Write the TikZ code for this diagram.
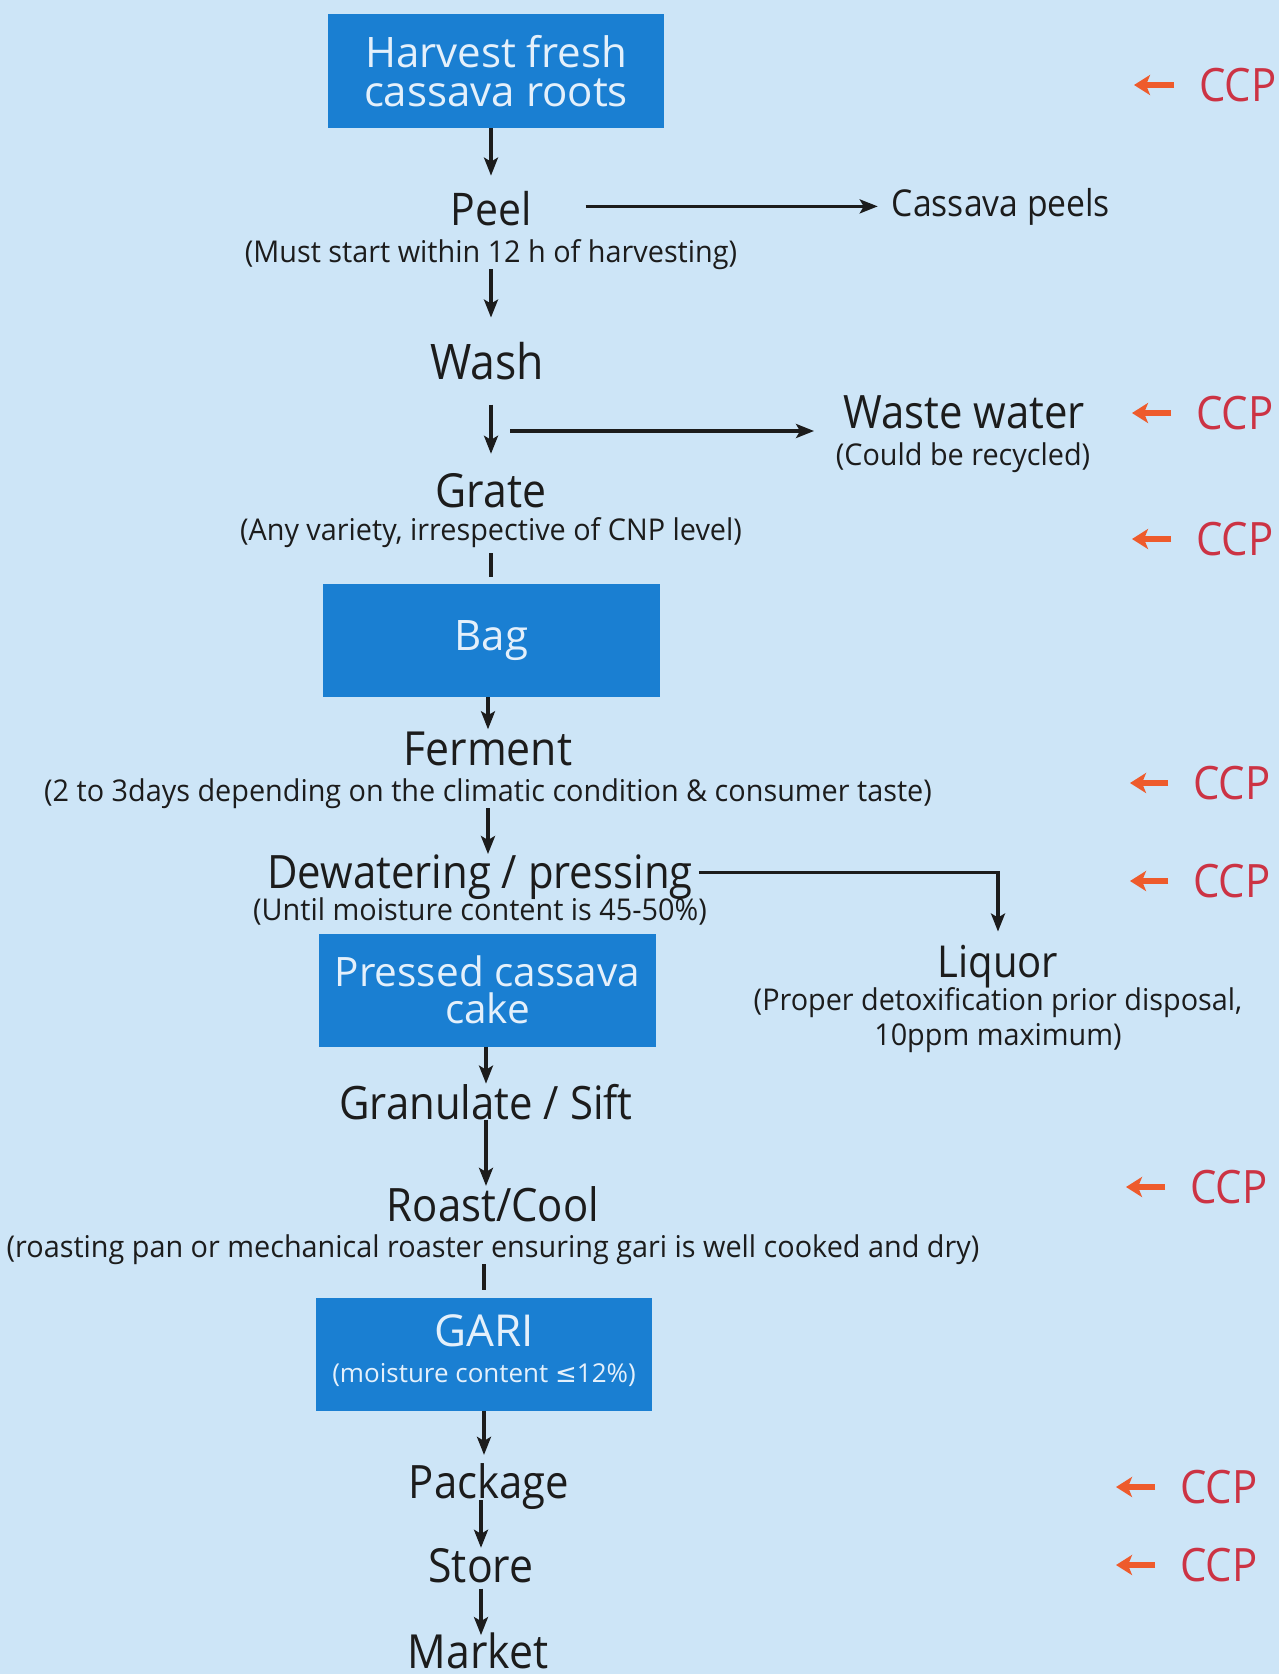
\documentclass[tikz,border=0pt]{standalone}
\usepackage{fontspec}
\setmainfont{Open Sans}
\newfontfamily\cf{Open Sans}[FakeStretch=0.91]
\newfontfamily\sbf{Open Sans}[FakeStretch=0.96]
\newfontfamily\symf{DejaVu Sans}
\usetikzlibrary{arrows.meta}
\definecolor{bg}{HTML}{CDE5F7}
\definecolor{boxblue}{HTML}{1A7FD2}
\definecolor{boxtext}{HTML}{E4F0FB}
\definecolor{ink}{HTML}{1C1C1C}
\definecolor{ccpred}{HTML}{CC3344}
\definecolor{ccporange}{HTML}{EE5B2C}
\newcommand{\fs}[1]{\fontsize{#1}{#1}\selectfont}
\begin{document}
\begin{tikzpicture}[x=1pt,y=-1pt,
  bluebox/.style={fill=boxblue,text=boxtext,inner sep=0pt,align=center,minimum width=337pt,minimum height=113pt,font=\fontsize{42}{39}\selectfont},
  lbl/.style={text=ink,inner sep=0pt,anchor=base},
  big/.style={lbl,font=\cf\fs{46}},
  sub/.style={lbl,font=\sbf\fs{30}},
  arr/.style={draw=ink,line width=3.2pt,-{Stealth[length=18pt,width=14pt,inset=4pt]}},
  plain/.style={draw=ink,line width=3.6pt},
  ccp/.style={text=ccpred,inner sep=0pt,anchor=west,font=\cf\fs{46}},
  ccparr/.style={draw=ccporange,line width=5.5pt,-{Stealth[length=16pt,width=20pt,inset=4pt]}}
]
\useasboundingbox (0,0) rectangle (1279,1674);
\fill[bg] (0,0) rectangle (1279,1674);

% main column
\node[bluebox,minimum width=336pt,minimum height=114pt] (harvest) at (496,71) {Harvest fresh\\cassava roots};
\node[big,font=\cf\fs{45}] (peel) at (491,225) {Peel};
\node[sub] (peelsub) at (491,262) {(Must start within 12 h of harvesting)};
\node[lbl,font=\cf\fs{37}] (peels) at (1001,216) {Cassava peels};
\node[big,font=\cf\fs{49}] (wash) at (487,379) {Wash};
\node[big] (waste) at (964,428) {Waste water};
\node[sub] (wastesub) at (963,465) {(Could be recycled)};
\node[big,font=\cf\fs{47}] (grate) at (491,507) {Grate};
\node[sub] (gratesub) at (491,540) {(Any variety, irrespective of CNP level)};
\node[bluebox] (bag) at (491.5,640.5) {Bag};
\node[big,font=\cf\fs{47}] (ferment) at (488,765) {Ferment};
\node[sub] (fermsub) at (488,801) {(2 to 3days depending on the climatic condition \& consumer taste)};
\node[big] (dewater) at (480,888) {Dewatering / pressing};
\node[sub] (dewsub) at (480,920) {(Until moisture content is 45-50\%)};
\node[bluebox,font=\fontsize{40.5}{37}\selectfont] (pressed) at (487.5,990) {Pressed cassava\\cake};
\node[big,font=\cf\fs{44}] (liquor) at (998,977) {Liquor};
\node[sub,anchor=center,align=center,font=\sbf\fontsize{30}{35}\selectfont] (liqsub) at (998,1020) {(Proper detoxification prior disposal,\\10ppm maximum)};
\node[big] (gran) at (486,1119) {Granulate / Sift};
\node[big] (roast) at (493,1221) {Roast/Cool};
\node[sub] (roastsub) at (493,1257) {(roasting pan or mechanical roaster ensuring gari is well cooked and dry)};
\node[bluebox,minimum width=336pt,font=\fontsize{44}{36}\selectfont] (gari) at (484,1354.5) {GARI\\{\fontsize{26}{36}\selectfont (moisture content {\symf ≤}12\%)\rule[-12pt]{0pt}{12pt}}};
\node[big,font=\cf\fs{46}] (package) at (489,1498) {Package};
\node[big,font=\cf\fs{47}] (store) at (481,1582) {Store};
\node[big,font=\cf\fs{47}] (market) at (478,1668) {Market};

% connectors
\draw[arr,shorten >=15pt] (harvest.south -| peel.north) -- (peel.north);
\draw[arr,shorten <=54pt,shorten >=14pt] (peel.east |- peels.west) -- (peels.west);
\draw[arr,shorten >=24pt] (peelsub.south) -- (peelsub.south |- wash.north);
\draw[arr,shorten <=25pt,shorten >=19pt] (grate.north |- wash.south) -- (grate.north);
\coordinate (wj) at (510,431);
\draw[arr,shorten >=29pt] (wj) -- (wj -| waste.west);
\draw[plain,shorten <=6pt,shorten >=7pt] (gratesub.south) -- (gratesub.south |- bag.north);
\draw[arr,shorten >=2pt] (ferment.north |- bag.south) -- (ferment.north);
\draw[arr] (fermsub.south) -- (fermsub.south |- dewater.north);
\draw[arr,shorten <=6pt,shorten >=13pt] ([yshift=4pt]dewater.east) -| (liquor.north);
\draw[arr] (pressed.south -| gran.north) -- (gran.north);
\draw[arr] (gran.south) -- (gran.south |- roast.north);
\draw[plain,shorten >=8pt] (roastsub.south -| gari.north) -- (gari.north);
\draw[arr,shorten >=8pt] (gari.south) -- (gari.south |- package.north);
\draw[arr,shorten <=-9pt] (store.north |- package.south) -- (store.north);
\draw[arr,shorten <=6pt,shorten >=-3pt] (store.south) -- (store.south |- market.north);

% CCP markers
\foreach \y/\ax/\cx [count=\i] in {85/1134/1199, 413/1132/1196, 539/1132/1196, 783/1130/1193, 881/1130/1193, 1187/1126/1190, 1487/1116/1180, 1565/1116/1180}{
  \node[ccp] (ccp\i) at (\cx,\y) {CCP};
  \coordinate (ccph\i) at (\ax,\y);
  \draw[ccparr,shorten <=25pt] (ccp\i.west) -- (ccph\i);
}
\end{tikzpicture}
\end{document}
